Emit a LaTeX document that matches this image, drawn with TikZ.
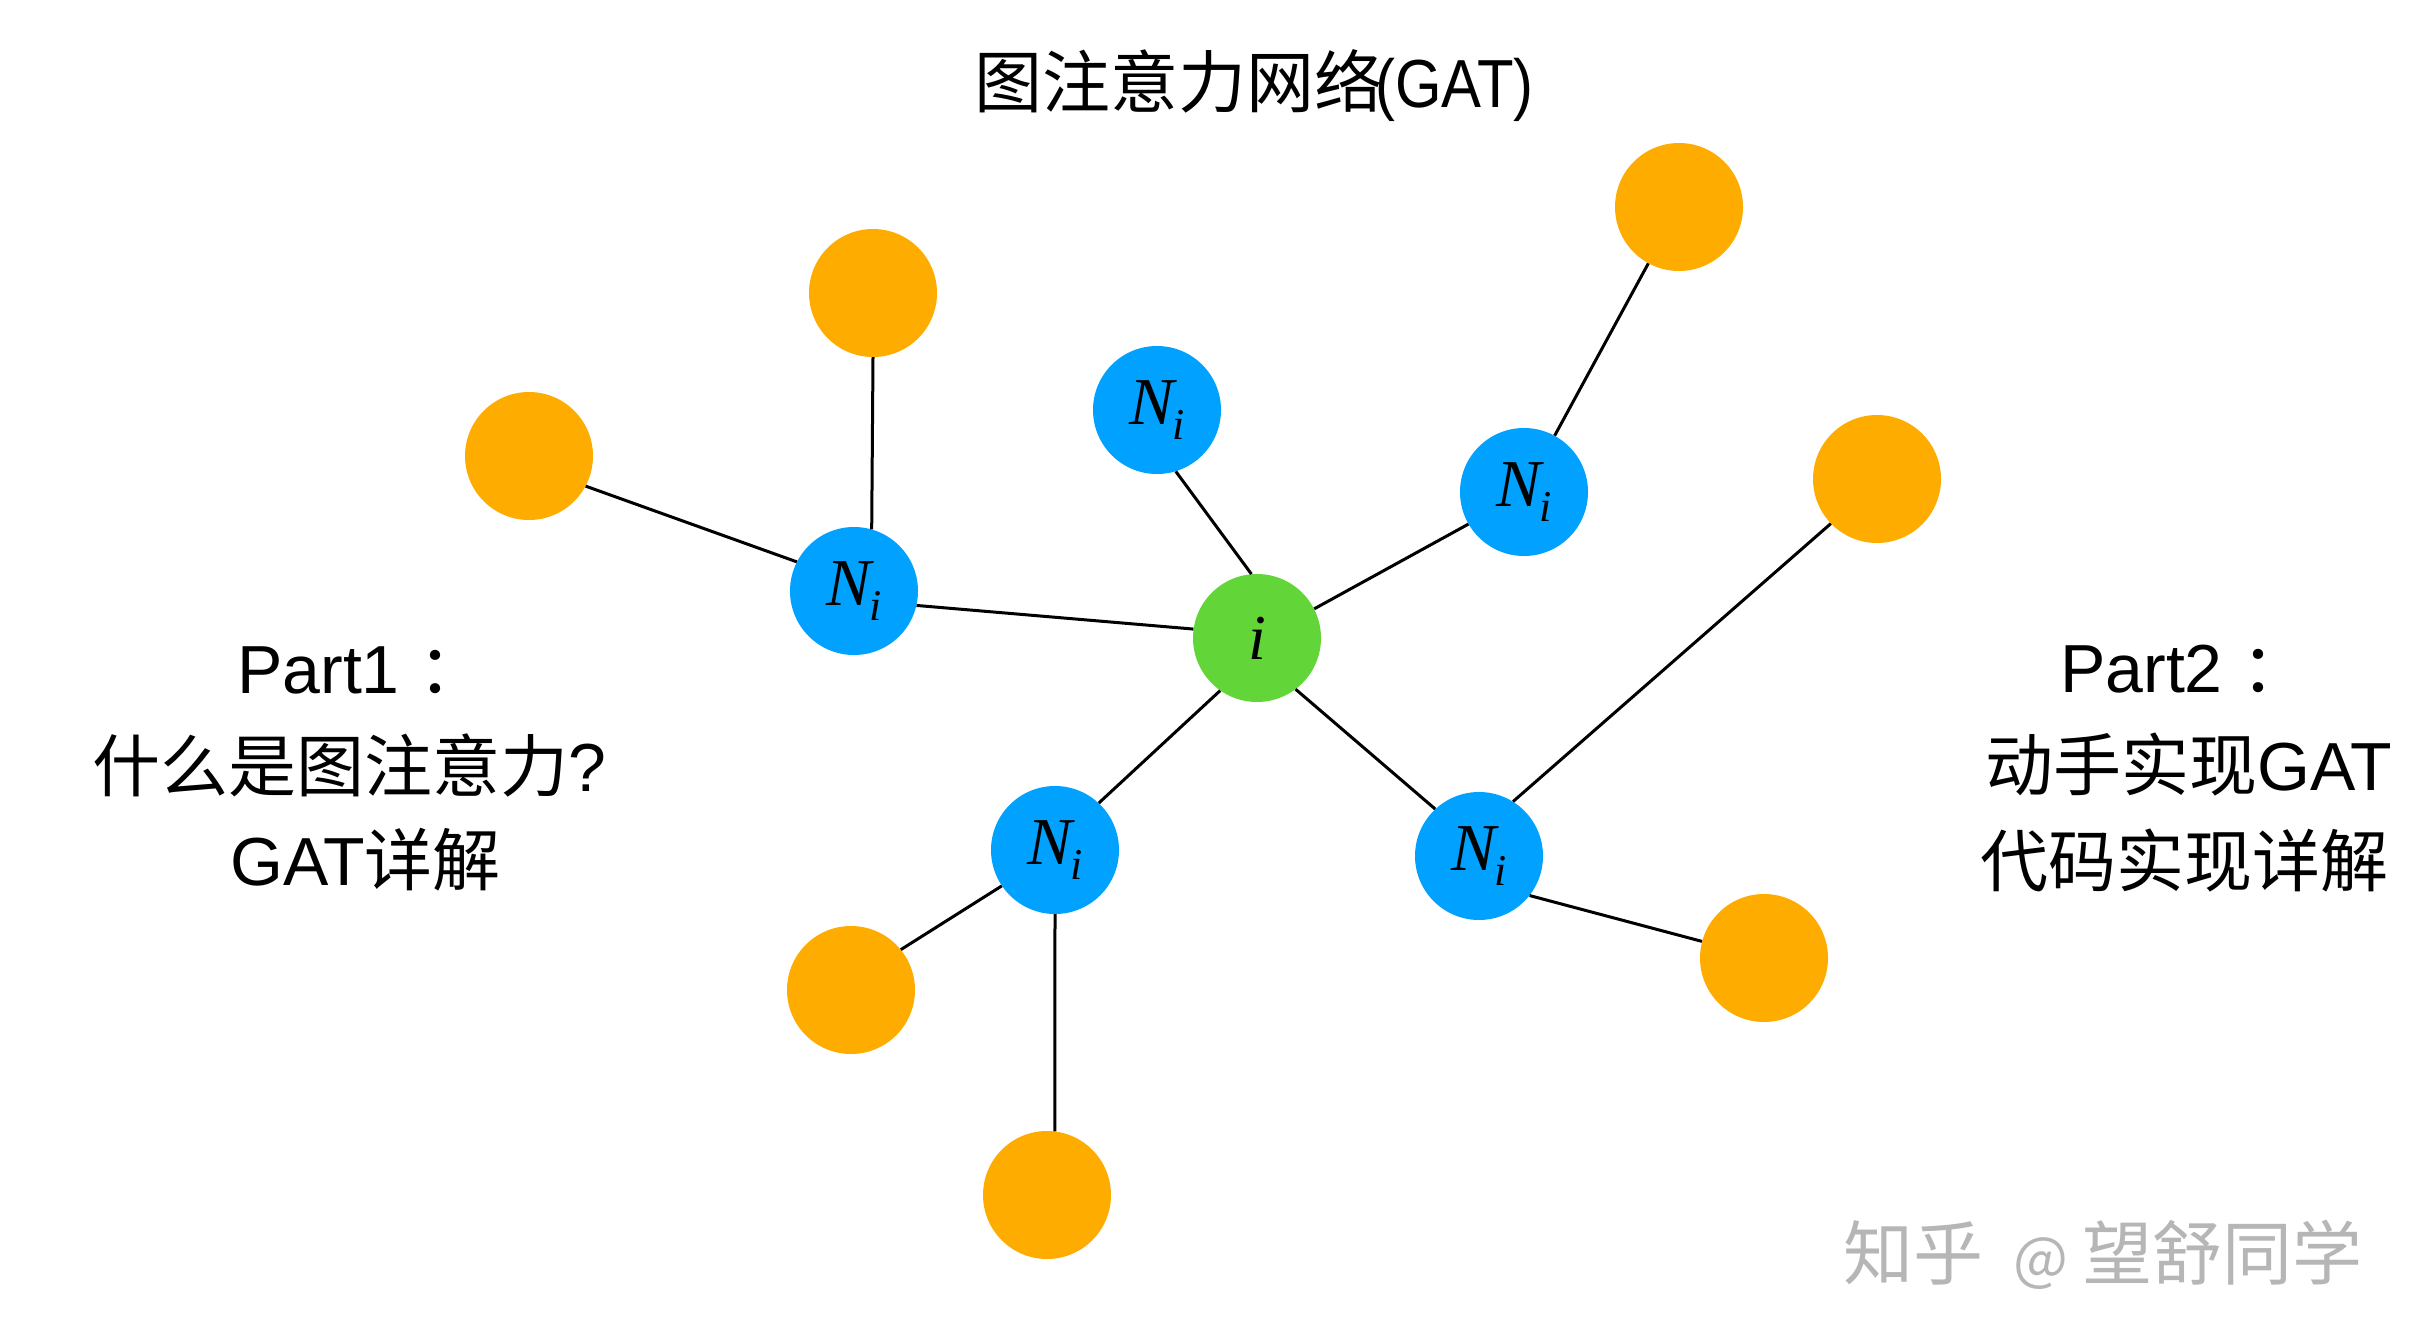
\documentclass[tikz,border=0pt]{standalone}
\usepackage{fontspec}
\usepackage{graphicx}
\setmainfont{Liberation Sans}
\newfontfamily\cjk{Noto Sans CJK SC}
\newfontfamily\tms{Liberation Serif}
\definecolor{nodeblue}{RGB}{0,161,255}
\definecolor{nodegreen}{RGB}{98,213,57}
\definecolor{nodeorange}{RGB}{255,172,0}
\definecolor{wmgrey}{RGB}{182,182,182}
\newcommand{\Nlabel}{{\tms\itshape N\kern-1pt\raisebox{-15pt}{\fontsize{44}{44}\selectfont i}}}
\tikzset{
  dot/.style={circle, minimum size=128pt, inner sep=0pt, draw=none},
  orangenode/.style={dot, fill=nodeorange},
  bluenode/.style={dot, fill=nodeblue, font=\fontsize{67}{67}\selectfont},
  greennode/.style={dot, fill=nodegreen, font=\fontsize{64}{64}\selectfont},
  edge/.style={draw=black, line width=3pt},
  txt/.style={inner sep=0pt, anchor=base west, font=\fontsize{68}{68}\selectfont},
}
\begin{document}
\begin{tikzpicture}[x=1pt,y=-1pt]
\useasboundingbox (0,0) rectangle (2426,1328);
% nodes
\node[greennode] (g) at (1257,638) {{\tms\itshape i}};
\node[bluenode] (A) at (854,591) {\Nlabel};
\node[bluenode] (B) at (1157,410) {\Nlabel};
\node[bluenode] (C) at (1524,492) {\Nlabel};
\node[bluenode] (D) at (1055,850) {\Nlabel};
\node[bluenode] (E) at (1479,856) {\Nlabel};
\node[orangenode] (o1) at (873,293) {};
\node[orangenode] (o2) at (529,456) {};
\node[orangenode] (o3) at (1679,207) {};
\node[orangenode] (o4) at (1877,479) {};
\node[orangenode] (o5) at (851,990) {};
\node[orangenode] (o6) at (1047,1195) {};
\node[orangenode] (o7) at (1764,958) {};
% edges
\draw[edge] (A.-13) -- (g.172);
\draw[edge] (B.-73) -- (g.95);
\draw[edge] (g.27) -- (C.210);
\draw[edge] (D.47) -- (g.-125);
\draw[edge] (g.-53) -- (E.133);
\draw[edge] (o1.south) -- (A.74);
\draw[edge] (o2.-28) -- (A.153);
\draw[edge] (C) -- (o3);
\draw[edge] (E.58) -- (o4.224);
\draw[edge] (E.-38) -- (o7.165);
\draw[edge] (D.214) -- (o5.39);
\draw[edge] (D.south) -- (o6.83);
% texts
\node[txt] (title) at (974,107) {{\cjk 图注意力网络}\kern-7pt\scalebox{0.88}[1]{(GAT)}};
\node[txt] (l1) at (237,693) {Part1 {\cjk ：}};
\node[txt] (l2) at (92,791) {{\cjk 什么是图注意力}?};
\node[txt] (l3) at (230,885) {GAT{\cjk 详解}};
\node[txt] (r1) at (2060,692) {Part2 {\cjk ：}};
\node[txt] (r2) at (1985,790) {{\cjk 动手实现}GAT};
\node[txt] (r3) at (1980,886) {{\cjk 代码实现详解}};
\node[inner sep=0pt, anchor=base west, text=wmgrey, font=\fontsize{70}{70}\selectfont\cjk] (wm) at (1843,1279) {知乎\hspace{30pt}{\fontsize{58}{58}\selectfont @}\hspace{14pt}望舒同学};
\end{tikzpicture}
\end{document}
